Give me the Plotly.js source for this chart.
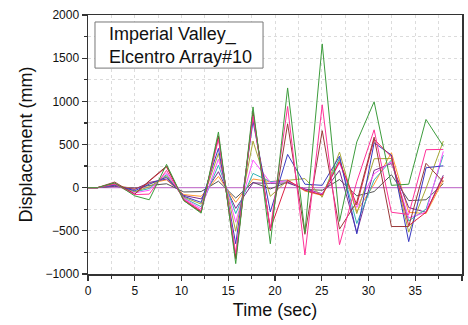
<!DOCTYPE html>
<html>
<head>
<meta charset="utf-8">
<script src="https://cdn.plot.ly/plotly-3.0.1.min.js"></script>
<style>html,body{margin:0;padding:0;background:#fff;}#chart{width:468px;height:325px;}</style>
</head>
<body>
<div id="chart"></div>
<script>
const time = [0, 1.0, 2.85, 5.0, 6.55, 8.4, 10.25, 12.1, 13.95, 15.8, 17.65, 19.5, 21.35, 23.2, 25.05, 26.9, 28.75, 30.6, 32.45, 34.3, 36.15, 38.0];

const green   = [0,0,55,-95,-140,270,-150,-295,645,-880,935,-650,1155,-520,1665,-390,530,995,27,40,790,480];
const pink    = [0,0,40,-80,-75,200,-135,-265,560,-760,830,-480,940,-780,960,-660,70,670,-285,-310,440,443];
const wine    = [0,0,65,-75,80,250,-150,-285,600,-820,880,-500,740,-540,660,-480,-165,585,-450,-450,282,66];
const blue    = [0,0,30,-35,40,120,-100,-170,455,-650,770,-280,385,40,27,365,-535,520,378,-625,230,253];
const olive   = [0,0,35,-45,10,135,-110,-190,395,-505,540,-100,85,105,-110,412,-300,335,338,-515,-10,540];
const magenta = [0,0,40,-60,-30,170,-125,-245,330,-400,320,60,80,-25,-75,285,-230,160,300,-350,-285,420];
const cyan    = [0,0,30,-50,-10,150,-120,-220,260,-300,165,70,80,-30,-80,340,-415,90,320,-385,-250,377];
const orange  = [0,0,25,-15,50,90,-80,-100,130,-170,100,70,90,-40,-90,320,-275,40,405,-285,-300,86];
const gray    = [0,0,15,-5,25,45,-50,-45,75,-120,62,-15,65,-20,-30,95,-95,-45,150,-150,-140,47];
const purple  = [0,0,20,-20,60,100,-90,-130,185,-240,55,50,55,-15,-70,200,-520,200,280,-230,-285,144];
const red     = [0,0,50,-75,75,240,-140,-275,590,-820,860,-480,85,-30,-85,300,-200,560,358,-440,-285,124];

const zeroX = [0, 40];
const zeroY = [0, 0];

const seriesList = [
  {y: gray, c: '#555555'},
  {y: orange, c: '#ff9933'},
  {y: purple, c: '#7a2a90'},
  {y: cyan, c: '#33b5b5'},
  {y: magenta, c: '#ff55ff'},
  {y: olive, c: '#a8a838'},
  {y: blue, c: '#3a3ac0'},
  {y: red, c: '#dd2244'},
  {y: wine, c: '#9a3a3a'},
  {y: pink, c: '#ff3399'},
  {y: green, c: '#3c9c3c'}
];

const traces = [{x: zeroX, y: zeroY, mode: 'lines', line: {color: '#c77ccf', width: 1.2}, hoverinfo: 'skip'}];
seriesList.forEach(s => traces.push({x: time, y: s.y, mode: 'lines', line: {color: s.c, width: 1}}));

const axisCommon = {
  showline: true, linecolor: '#333', linewidth: 1.5, mirror: true,
  ticks: 'outside', ticklen: 5, tickwidth: 1.2, tickcolor: '#333',
  showgrid: true, gridcolor: '#dcdcdc', griddash: 'dot', gridwidth: 1,
  zeroline: false,
  tickfont: {family: 'Liberation Sans, Arial, sans-serif', size: 12, color: '#111'}
};

const layout = {
  width: 468, height: 325,
  margin: {l: 88, r: 6, t: 15, b: 51},
  paper_bgcolor: '#fff', plot_bgcolor: '#fff',
  showlegend: false,
  xaxis: Object.assign({}, axisCommon, {
    range: [0, 40], dtick: 5, tick0: 0,
    minor: {dtick: 2.5, ticks: 'outside', ticklen: 3, tickcolor: '#333', showgrid: true, gridcolor: '#dcdcdc', griddash: 'dot'},
    title: {text: 'Time (sec)', font: {family: 'Liberation Sans, Arial, sans-serif', size: 18, color: '#111'}, standoff: 6}
  }),
  yaxis: Object.assign({}, axisCommon, {
    range: [-1000, 2000], dtick: 500, tick0: 0,
    minor: {dtick: 250, ticks: 'outside', ticklen: 3, tickcolor: '#333', showgrid: true, gridcolor: '#dcdcdc', griddash: 'dot'},
    title: {text: 'Displacement (mm)', font: {family: 'Liberation Sans, Arial, sans-serif', size: 18, color: '#111'}, standoff: 8}
  }),
  shapes: [{type: 'rect', xref: 'paper', yref: 'paper', x0: 0.0187, x1: 0.468, y0: 0.795, y1: 0.973,
            line: {color: '#777', width: 1}, fillcolor: '#fff', layer: 'above'}],
  annotations: [{xref: 'paper', yref: 'paper', x: 0.051, y: 0.884, xanchor: 'left', yanchor: 'middle', align: 'left',
                 showarrow: false, text: 'Imperial Valley_<br>Elcentro Array#10',
                 font: {family: 'Liberation Sans, Arial, sans-serif', size: 18, color: '#111'}}]
};

Plotly.newPlot('chart', traces, layout, {displayModeBar: false, staticPlot: true});
</script>
</body>
</html>
